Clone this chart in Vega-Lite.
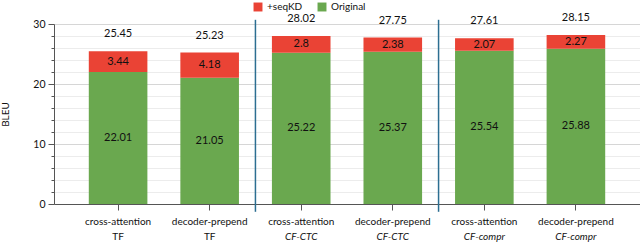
{
  "$schema": "https://vega.github.io/schema/vega-lite/v6.json",
  "width": 586,
  "height": 180,
  "autosize": {"type": "none"},
  "padding": {"left": 54, "top": 24, "right": 0, "bottom": 40},
  "background": "white",
  "config": {
    "view": {"stroke": null},
    "font": "Lato",
    "text": {"font": "Lato", "fontSize": 11, "color": "#111"}
  },
  "datasets": {
    "bleu": [
      {"cat": "cross-attention|TF", "part": "Original", "value": 22.01},
      {"cat": "cross-attention|TF", "part": "+seqKD", "value": 3.44},
      {"cat": "decoder-prepend|TF", "part": "Original", "value": 21.05},
      {"cat": "decoder-prepend|TF", "part": "+seqKD", "value": 4.18},
      {"cat": "cross-attention|CF-CTC", "part": "Original", "value": 25.22},
      {"cat": "cross-attention|CF-CTC", "part": "+seqKD", "value": 2.8},
      {"cat": "decoder-prepend|CF-CTC", "part": "Original", "value": 25.37},
      {"cat": "decoder-prepend|CF-CTC", "part": "+seqKD", "value": 2.38},
      {"cat": "cross-attention|CF-compr", "part": "Original", "value": 25.54},
      {"cat": "cross-attention|CF-compr", "part": "+seqKD", "value": 2.07},
      {"cat": "decoder-prepend|CF-compr", "part": "Original", "value": 25.88},
      {"cat": "decoder-prepend|CF-compr", "part": "+seqKD", "value": 2.27}
    ],
    "seps": [
      {"cat": "cross-attention|CF-CTC", "top": 30.7, "bottom": -1.3},
      {"cat": "cross-attention|CF-compr", "top": 30.7, "bottom": -1.3}
    ]
  },
  "resolve": {"axis": {"x": "independent", "y": "independent"}},
  "layer": [
    {
      "data": {"name": "bleu"},
      "mark": {"type": "bar", "width": {"band": 0.64}},
      "encoding": {
        "x": {
          "field": "cat", "type": "nominal", "sort": null,
          "scale": {"paddingInner": 0, "paddingOuter": 0.2},
          "axis": {
            "orient": "bottom", "title": null, "labelAngle": 0,
            "labelExpr": "split(datum.value, '|')[0]",
            "labelFontSize": 10, "labelColor": "#111", "labelPadding": 6,
            "tickSize": 6, "tickColor": "#555", "domainColor": "#555", "grid": false
          }
        },
        "y": {
          "field": "value", "type": "quantitative", "stack": "zero",
          "scale": {"domain": [0, 30], "nice": false},
          "axis": {
            "orient": "left",
            "title": "BLEU", "titleFontWeight": "normal", "titleFontSize": 10, "titleColor": "#111", "titlePadding": 22,
            "values": [0, 2, 4, 6, 8, 10, 12, 14, 16, 18, 20, 22, 24, 26, 28, 30],
            "labelExpr": "datum.value % 10 == 0 ? datum.label : ''",
            "labelFontSize": 10.5, "labelColor": "#111", "labelPadding": 3,
            "tickSize": {"condition": {"test": "datum.value % 10 == 0", "value": 6}, "value": 3},
            "tickColor": "#555", "domainColor": "#555",
            "gridColor": {"condition": {"test": "datum.value % 10 == 0", "value": "#d6d6d6"}, "value": "#ececec"}
          }
        },
        "color": {
          "field": "part", "type": "nominal",
          "scale": {"domain": ["+seqKD", "Original"], "range": ["#ea4335", "#6aa84f"]},
          "legend": {
            "title": null, "orient": "none", "direction": "horizontal",
            "legendX": 199, "legendY": -22, "symbolType": "square", "symbolSize": 80,
            "symbolStrokeWidth": 0, "labelFontSize": 10, "labelColor": "#111", "columnPadding": 14
          }
        },
        "order": {"field": "part", "sort": "descending"}
      }
    },
    {
      "data": {"name": "bleu"},
      "transform": [
        {"stack": "value", "groupby": ["cat"], "sort": [{"field": "part", "order": "descending"}], "as": ["v0", "v1"]},
        {"fold": ["v0", "v1"], "as": ["edge", "pos"]}
      ],
      "mark": {"type": "text", "baseline": "middle"},
      "encoding": {
        "x": {"field": "cat", "type": "nominal", "sort": null, "axis": null},
        "y": {"aggregate": "mean", "field": "pos", "type": "quantitative", "axis": null},
        "text": {"aggregate": "min", "field": "value", "type": "quantitative"},
        "detail": {"field": "part"}
      }
    },
    {
      "data": {"name": "bleu"},
      "mark": {"type": "text", "baseline": "middle", "dy": -17},
      "encoding": {
        "x": {"field": "cat", "type": "nominal", "sort": null, "axis": null},
        "y": {"aggregate": "sum", "field": "value", "type": "quantitative", "axis": null},
        "text": {"aggregate": "sum", "field": "value", "type": "quantitative", "format": ".2f"}
      }
    },
    {
      "data": {"name": "seps"},
      "mark": {"type": "rule", "color": "#2c6e91", "strokeWidth": 1.5},
      "encoding": {
        "x": {
          "field": "cat", "type": "nominal", "sort": null, "bandPosition": 0,
          "axis": {
            "orient": "bottom", "title": null, "labelAngle": 0,
            "labelExpr": "split(datum.value, '|')[1]",
            "labelFontStyle": {"condition": {"test": "indexof(datum.value, 'CF') >= 0", "value": "italic"}, "value": "normal"},
            "labelFontSize": 10, "labelColor": "#111", "labelPadding": 27,
            "ticks": false, "domain": false, "grid": false
          }
        },
        "y": {"field": "top", "type": "quantitative", "axis": null},
        "y2": {"field": "bottom"}
      }
    }
  ]
}
